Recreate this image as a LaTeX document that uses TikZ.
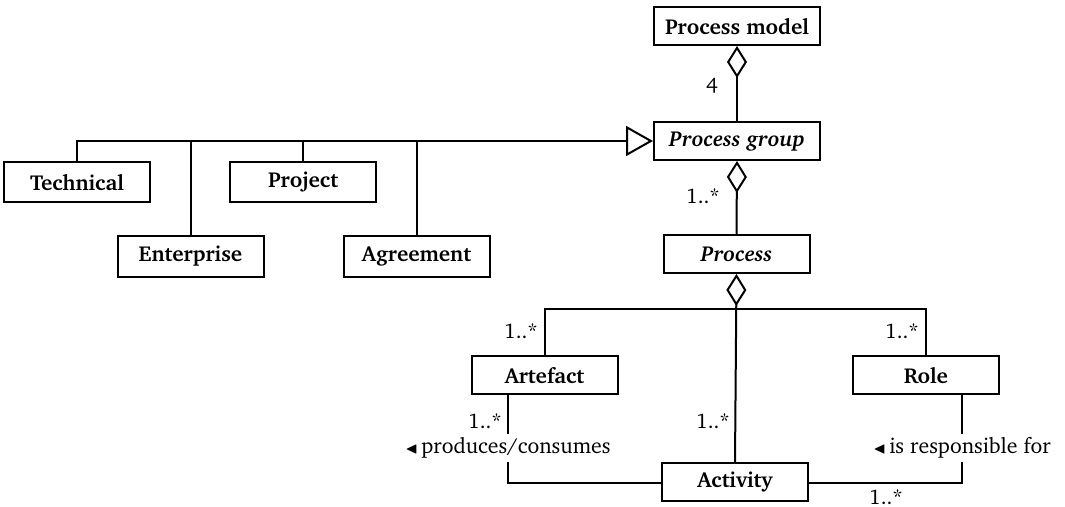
\documentclass[tikz,border=0pt]{standalone}
\usepackage[T1]{fontenc}
\usepackage{charter}
\usepackage{amssymb}
\usetikzlibrary{arrows.meta}

\newcommand{\boxfont}{\fontsize{10.8}{13}\selectfont\bfseries}
\newcommand{\readdir}{{\footnotesize$\blacktriangleleft$}}

\tikzset{
  cls/.style={draw, line width=1pt, inner sep=0pt, font=\boxfont,
              minimum width=73pt, minimum height=19pt},
  wide/.style={minimum width=83pt},
  link/.style={line width=1pt},
  aggr/.style={{Diamond[open, length=16pt, width=10pt, line width=1pt]}-},
  gen/.style={-{Triangle[open, length=13.5pt, width=15pt, line width=1pt]}},
  mult/.style={inner sep=0pt},
  role name/.style={fill=white, inner xsep=1pt, inner ysep=2pt,
                    font=\fontsize{10.9}{13}\selectfont}
}

\begin{document}
\begin{tikzpicture}[x=0.5pt, y=-0.5pt, font=\fontsize{10.5}{12.6}\selectfont]
\useasboundingbox (0,0) rectangle (1065,507);

% classes
\node[cls, wide] (pm)   at (737,26)    {Process model};
\node[cls, wide] (pg)   at (737,141)   {\itshape Process group};
\node[cls]       (proc) at (736.5,254) {\itshape Process};
\node[cls, minimum height=20pt] (tech) at (77,182)    {Technical};
\node[cls, minimum height=20pt] (proj) at (303,182)   {Project};
\node[cls, minimum height=20.5pt] (ent)  at (190.5,256.5) {Enterprise};
\node[cls, minimum height=20.5pt] (agr)  at (416.5,256.5) {Agreement};
\node[cls]       (art)  at (544.5,375.5) {Artefact};
\node[cls]       (role) at (926,375.5)   {Role};
\node[cls]       (act)  at (735,482)     {Activity};

% aggregations
\draw[link, aggr] (pm.south) -- (pg.north);
\draw[link, aggr] (pg.south) -- (proc.north);
\coordinate (fork) at (736,309);
\draw[link, aggr] (proc.south) -- (act.north);
\draw[link] (fork) -| (art.north);
\draw[link] (fork) -| (role.north);

% generalisation
\draw[link, gen] (tech.north) |- (pg.west);
\draw[link] (ent.north)  -- (ent.north  |- pg.west);
\draw[link] (proj.north) -- (proj.north |- pg.west);
\draw[link] (agr.north)  -- (agr.north  |- pg.west);

% associations
\coordinate (aa) at (508,483);
\coordinate (ra) at (962,483);
\draw[link] (art.south -| aa) -- node[pos=0.6, role name]{\readdir\,produces/consumes} (aa) -- (act.west |- aa);
\draw[link] (role.south -| ra) -- node[pos=0.6, role name]{\readdir\,is responsible for} (ra) -- (act.east |- ra);

% multiplicities
\node[mult] (m1) at (712,86)  {4};
\node[mult] (m2) at (703,196) {1..*};
\node[mult] (m3) at (521,331) {1..*};
\node[mult] (m4) at (902,331) {1..*};
\node[mult] (m5) at (485,421) {1..*};
\node[mult] (m6) at (713,421) {1..*};
\node[mult, anchor=south] (m7) at (886,505) {1..*};
\end{tikzpicture}
\end{document}
